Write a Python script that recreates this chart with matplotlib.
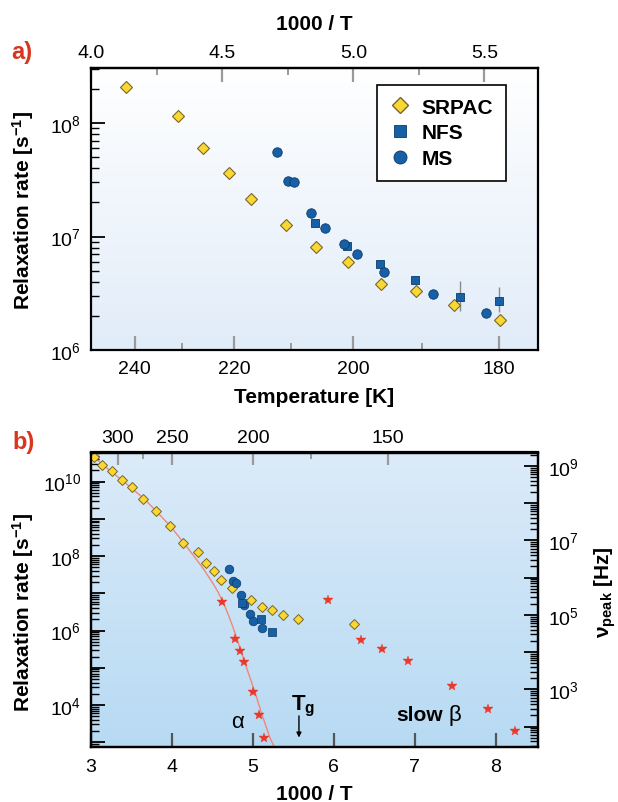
import numpy as np
import matplotlib
matplotlib.use("Agg")
import matplotlib.pyplot as plt
from matplotlib.lines import Line2D
from matplotlib.ticker import FixedLocator, FuncFormatter, LogLocator, NullFormatter, FixedFormatter
from matplotlib.colors import LinearSegmentedColormap

plt.rcParams['font.family'] = ['Liberation Sans', 'DejaVu Sans']
plt.rcParams['mathtext.fontset'] = 'custom'
plt.rcParams['mathtext.rm'] = 'Liberation Sans'
plt.rcParams['mathtext.it'] = 'Liberation Sans:italic'
plt.rcParams['mathtext.bf'] = 'Liberation Sans:bold'

# ---------------- panel a: rates vs temperature ----------------
srpac_T = [242.0, 230.9, 225.9, 220.9, 216.9, 210.9, 205.9, 200.8, 195.9, 190.9, 185.8, 179.9]
srpac_rate = [2.07e8, 1.16e8, 5.98e7, 3.61e7, 2.13e7, 1.27e7, 8.04e6, 5.96e6, 3.84e6, 3.29e6, 2.51e6, 1.85e6]

ms_T = [212.4, 210.4, 209.5, 206.6, 204.4, 201.4, 199.5, 195.5, 188.6, 181.6]
ms_rate = [5.52e7, 3.10e7, 3.01e7, 1.60e7, 1.18e7, 8.59e6, 7.02e6, 4.84e6, 3.11e6, 2.10e6]

nfs_T = [206.0, 201.0, 196.0, 191.0, 185.0, 180.0]
nfs_rate = [1.32e7, 8.20e6, 5.73e6, 4.16e6, 2.91e6, 2.72e6]
nfs_err_T = [185.0, 180.0]
nfs_err_low = [2.22e6, 2.16e6]
nfs_err_high = [4.08e6, 3.59e6]

temp_major = [240, 220, 200, 180]
temp_minor = [230, 210, 190]
inv_major = [4.0, 4.5, 5.0, 5.5]
inv_minor = [4.25, 4.75, 5.25]

# ---------------- panel b: rates vs 1000/T ----------------
srpac_b_x = [3.04, 3.14, 3.26, 3.38, 3.51, 3.64, 3.80, 3.97, 4.14, 4.32, 4.42, 4.52, 4.61, 4.74,
             4.98, 5.11, 5.23, 5.37, 5.56, 6.25]
srpac_b_rate = [4.47e10, 2.82e10, 1.95e10, 1.10e10, 7.08e9, 3.39e9, 1.62e9, 6.46e8, 2.29e8, 1.26e8,
                6.61e7, 3.98e7, 2.34e7, 1.38e7, 6.46e6, 4.17e6, 3.47e6, 2.69e6, 2.00e6, 1.51e6]

ms_b_x = [4.707, 4.749, 4.786, 4.848, 4.893, 4.963, 5.004, 5.115]
ms_b_rate = [4.41e7, 2.09e7, 1.93e7, 8.77e6, 4.93e6, 2.70e6, 1.75e6, 1.16e6]

nfs_b_x = [4.859, 5.099, 5.231]
nfs_b_rate = [5.58e6, 1.98e6, 9.40e5]

alpha_x = [4.621, 4.778, 4.840, 4.893, 4.996, 5.078, 5.136]
alpha_rate = [5.82e6, 5.97e5, 2.89e5, 1.41e5, 2.27e4, 5.44e3, 1.34e3]

beta_x = [5.930, 6.330, 6.597, 6.917, 7.453, 7.905, 8.235]
beta_rate = [6.73e6, 5.61e5, 3.21e5, 1.50e5, 3.17e4, 7.74e3, 2.02e3]

fit_x = [3.00, 3.15, 3.38, 3.65, 3.81, 3.98, 4.14, 4.26, 4.39, 4.49, 4.57, 4.64, 4.70, 4.75,
         4.80, 4.85, 4.90, 5.02, 5.11, 5.21, 5.265]
fit_rate = [5.50e10, 2.75e10, 1.10e10, 3.55e9, 1.58e9, 6.31e8, 2.34e8, 1.07e8, 4.47e7, 2.09e7,
            1.07e7, 5.25e6, 2.51e6, 1.29e6, 6.17e5, 2.88e5, 1.35e5, 2.40e4, 5.62e3, 1.32e3, 7.24e2]

top_temps_major = [300, 250, 200, 150]
top_temps_minor = [275, 175]
tg_x = 5.568

# ---------------- styling ----------------
YEL, YEL_EDGE = '#fad732', '#7a6628'
BLUE, BLUE_EDGE = '#1760a6', '#0b3a6a'
RED = '#e8392a'
FIT = '#f08878'
LABEL_RED = '#d8361f'
W, H = 618, 803


def fx(p):
    return p / W


def fy(p):
    return 1 - p / H


fig = plt.figure(figsize=(W / 100, H / 100), dpi=100)
fig.patch.set_facecolor('white')

pos_a = [fx(91), fy(351), fx(538) - fx(91), fy(69) - fy(351)]
pos_b = [fx(91), fy(748), fx(538) - fx(91), fy(453.5) - fy(748)]


def gradient_bg(pos, top, bottom):
    bg = fig.add_axes(pos, zorder=0)
    cmap = LinearSegmentedColormap.from_list('bg', [bottom, top])
    grad = np.linspace(0, 1, 256).reshape(-1, 1)
    bg.imshow(grad, aspect='auto', cmap=cmap, origin='lower', extent=[0, 1, 0, 1])
    bg.set_axis_off()


gradient_bg(pos_a, '#ffffff', '#e1ecf9')
gradient_bg(pos_b, '#dcebf9', '#b7daf3')

# ================= panel a =================
ax = fig.add_axes(pos_a, zorder=1)
ax.patch.set_alpha(0)
ax.set_yscale('log')
ax.set_xlim(4.0, 5.704)
ax.set_ylim(1e6, 10 ** 8.485)

ax.vlines([1000 / t for t in nfs_err_T], nfs_err_low, nfs_err_high, color='#8a8a8a', lw=1.0, zorder=2)
ax.plot([1000 / t for t in srpac_T], srpac_rate, ls='none', marker='D', ms=6.4,
        mfc=YEL, mec=YEL_EDGE, mew=0.8, zorder=3)
ax.plot([1000 / t for t in nfs_T], nfs_rate, ls='none', marker='s', ms=5.6,
        mfc=BLUE, mec=BLUE_EDGE, mew=0.6, zorder=4)
ax.plot([1000 / t for t in ms_T], ms_rate, ls='none', marker='o', ms=6.8,
        mfc=BLUE, mec=BLUE_EDGE, mew=0.6, zorder=4)

for s in ax.spines.values():
    s.set_linewidth(1.6)

ax.xaxis.set_major_locator(FixedLocator([1000 / t for t in temp_major]))
ax.xaxis.set_major_formatter(FixedFormatter([str(t) for t in temp_major]))
ax.xaxis.set_minor_locator(FixedLocator([1000 / t for t in temp_minor]))
ax.tick_params(axis='x', which='major', direction='in', length=10, width=1.6, color='#9a9a9a',
               labelsize=14, pad=7)
ax.tick_params(axis='x', which='minor', direction='in', length=5, width=1.4, color='#9a9a9a')
ax.tick_params(axis='y', which='major', direction='in', length=10, width=1.3, color='black',
               labelsize=14, pad=7)
ax.tick_params(axis='y', which='minor', direction='in', length=5.5, width=1.0, color='black')
ax.yaxis.set_minor_formatter(NullFormatter())

top_a = ax.secondary_xaxis('top')
top_a.xaxis.set_major_locator(FixedLocator(inv_major))
top_a.xaxis.set_major_formatter(FixedFormatter(['%.1f' % v for v in inv_major]))
top_a.xaxis.set_minor_locator(FixedLocator(inv_minor))
top_a.tick_params(axis='x', which='major', direction='in', length=10, width=1.6, color='#9a9a9a',
                  labelsize=14, pad=5)
top_a.tick_params(axis='x', which='minor', direction='in', length=5, width=1.4, color='#9a9a9a')
top_a.spines['top'].set_linewidth(1.6)

handles = [
    Line2D([], [], ls='none', marker='D', ms=8.6, mfc=YEL, mec=YEL_EDGE, mew=1.0),
    Line2D([], [], ls='none', marker='s', ms=8.2, mfc=BLUE, mec=BLUE_EDGE, mew=0.6),
    Line2D([], [], ls='none', marker='o', ms=9.4, mfc=BLUE, mec=BLUE_EDGE, mew=0.6),
]
leg = ax.legend(handles, ['SRPAC', 'NFS', 'MS'], loc='upper left',
                bbox_to_anchor=(fx(376.7), fy(86)), bbox_transform=fig.transFigure,
                borderaxespad=0, prop={'weight': 'bold', 'size': 15}, frameon=True,
                fancybox=False, framealpha=1, edgecolor='black', handlelength=1.0,
                handletextpad=0.55, labelspacing=0.33, borderpad=0.6)
leg.get_frame().set_linewidth(1.2)

fig.text(fx(314.5), fy(25), '1000 / T', ha='center', va='center', fontsize=15, weight='bold')
fig.text(fx(22), fy(53), 'a)', ha='center', va='center', fontsize=17, weight='bold', color=LABEL_RED)
fig.text(fx(23), fy(210), r'Relaxation rate [s$^{\mathbf{-1}}$]', ha='center', va='center',
         rotation=90, fontsize=15, weight='bold')
fig.text(fx(314.5), fy(398), 'Temperature [K]', ha='center', va='center', fontsize=15, weight='bold')

# ================= panel b =================
bx = fig.add_axes(pos_b, zorder=1)
bx.patch.set_alpha(0)
bx.set_yscale('log')
ylo, yhi = 10 ** 2.873, 10 ** 10.78
bx.set_xlim(3.0, 8.52)
bx.set_ylim(ylo, yhi)

bx.plot(fit_x, fit_rate, color=FIT, lw=1.0, zorder=2)
bx.plot(srpac_b_x, srpac_b_rate, ls='none', marker='D', ms=4.9, mfc=YEL, mec=YEL_EDGE, mew=0.7, zorder=3)
bx.plot(ms_b_x, ms_b_rate, ls='none', marker='o', ms=6.2, mfc=BLUE, mec=BLUE_EDGE, mew=0.5, zorder=4)
bx.plot(nfs_b_x, nfs_b_rate, ls='none', marker='s', ms=5.2, mfc=BLUE, mec=BLUE_EDGE, mew=0.5, zorder=4)
bx.plot(alpha_x, alpha_rate, ls='none', marker='*', ms=7.5, mfc=RED, mec=RED, mew=0.3, zorder=4)
bx.plot(beta_x, beta_rate, ls='none', marker='*', ms=7.5, mfc=RED, mec=RED, mew=0.3, zorder=4)

for s in bx.spines.values():
    s.set_linewidth(1.6)

bx.xaxis.set_major_locator(FixedLocator([3, 4, 5, 6, 7, 8]))
bx.tick_params(axis='x', which='major', direction='in', length=10, width=1.6, color='#555555',
               labelsize=14, pad=8)
bx.yaxis.set_major_locator(LogLocator(base=10, numticks=20))
bx.yaxis.set_minor_locator(LogLocator(base=10, subs=np.arange(2, 10), numticks=100))
bx.yaxis.set_major_formatter(FuncFormatter(
    lambda v, p: r'$\mathdefault{10^{%d}}$' % round(np.log10(v)) if round(np.log10(v)) % 2 == 0 else ''))
bx.yaxis.set_minor_formatter(NullFormatter())
bx.tick_params(axis='y', which='major', direction='in', length=10, width=1.3, color='black',
               labelsize=14, pad=7)
bx.tick_params(axis='y', which='minor', direction='in', length=5.5, width=1.0, color='black')

top_b = bx.secondary_xaxis('top')
top_b.xaxis.set_major_locator(FixedLocator([1000 / t for t in top_temps_major]))
top_b.xaxis.set_major_formatter(FixedFormatter([str(t) for t in top_temps_major]))
top_b.xaxis.set_minor_locator(FixedLocator([1000 / t for t in top_temps_minor]))
top_b.tick_params(axis='x', which='major', direction='in', length=9, width=1.6, color='#9a9a9a',
                  labelsize=14, pad=5)
top_b.tick_params(axis='x', which='minor', direction='in', length=5, width=1.4, color='#9a9a9a')
top_b.spines['top'].set_linewidth(1.6)

# peak frequency scale on the right
nu_factor = 26.3
rx = bx.twinx()
rx.set_yscale('log')
rx.set_ylim(ylo / nu_factor, yhi / nu_factor)
rx.yaxis.set_major_locator(LogLocator(base=10, numticks=20))
rx.yaxis.set_minor_locator(LogLocator(base=10, subs=np.arange(2, 10), numticks=100))
rx.yaxis.set_major_formatter(FuncFormatter(
    lambda v, p: r'$\mathdefault{10^{%d}}$' % round(np.log10(v)) if round(np.log10(v)) % 2 == 1 else ''))
rx.yaxis.set_minor_formatter(NullFormatter())
rx.tick_params(axis='y', which='major', direction='in', length=10, width=1.3, color='black',
               labelsize=14, pad=7)
rx.tick_params(axis='y', which='minor', direction='in', length=5.5, width=1.0, color='black')
for s in rx.spines.values():
    s.set_linewidth(1.6)

bx.annotate('', xy=(tg_x, 1.34e3), xytext=(tg_x, 5.1e3),
            arrowprops=dict(arrowstyle='-|>', lw=1.0, color='black', mutation_scale=7,
                            shrinkA=0, shrinkB=0), zorder=5)

fig.text(fx(238), fy(723), 'α', ha='center', va='center', fontsize=16)
fig.text(fx(303), fy(706), r'T$_{\mathbf{g}}$', ha='center', va='center', fontsize=16, weight='bold')
fig.text(fx(443), fy(716), 'slow', ha='right', va='center', fontsize=15, weight='bold')
fig.text(fx(455), fy(716), 'β', ha='center', va='center', fontsize=16)

fig.text(fx(23.7), fy(443), 'b)', ha='center', va='center', fontsize=17, weight='bold', color=LABEL_RED)
fig.text(fx(23), fy(612), r'Relaxation rate [s$^{\mathbf{-1}}$]', ha='center', va='center',
         rotation=90, fontsize=15, weight='bold')
fig.text(fx(605), fy(592), r'ν$_{\mathbf{peak}}$ [Hz]', ha='center', va='center',
         rotation=90, fontsize=15, weight='bold')
fig.text(fx(314.5), fy(795), '1000 / T', ha='center', va='center', fontsize=15, weight='bold')

fig.savefig('out.png', dpi=100)
